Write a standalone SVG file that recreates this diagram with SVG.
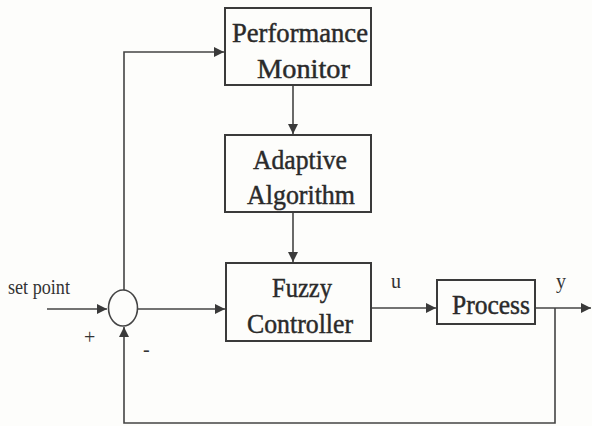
<svg xmlns="http://www.w3.org/2000/svg" width="592" height="426" viewBox="0 0 592 426">
<defs>
<marker id="ah" viewBox="0 0 10 10" refX="10" refY="5" markerWidth="10" markerHeight="10" markerUnits="userSpaceOnUse" orient="auto">
<path d="M0,0 L10,5 L0,10 z" fill="#3a3a3a"/>
</marker>
<style>
.box{fill:none;stroke:#3a3a3a;stroke-width:2}
.ln{fill:none;stroke:#444;stroke-width:1.6}
.t{fill:#2a2a2a;stroke:#2a2a2a;stroke-width:0.45;font-size:27px}
.s{fill:#333;font-size:20px}
</style>
</defs>
<rect width="592" height="426" fill="#fdfdfb"/>
<g id="connectors">
<line class="ln" x1="293" y1="85" x2="293" y2="134" marker-end="url(#ah)"/>
<line class="ln" x1="293" y1="212" x2="293" y2="262" marker-end="url(#ah)"/>
<line class="ln" x1="47" y1="309" x2="107" y2="309" marker-end="url(#ah)"/>
<line class="ln" x1="138" y1="309" x2="225" y2="309" marker-end="url(#ah)"/>
<line class="ln" x1="371" y1="308" x2="436" y2="308" marker-end="url(#ah)"/>
<line class="ln" x1="535" y1="308" x2="591" y2="308" marker-end="url(#ah)"/>
<polyline class="ln" points="555,308 555,423 124,423 124,327" marker-end="url(#ah)"/>
<polyline class="ln" points="124,290 124,52 224,52" marker-end="url(#ah)"/>
</g>
<g font-family="'Liberation Serif', 'DejaVu Serif', serif">
<g id="performance-monitor">
<rect class="box" x="225" y="8" width="146" height="77"/>
<text class="t" x="232" y="42" textLength="136" lengthAdjust="spacingAndGlyphs">Performance</text>
<text class="t" x="257" y="78" textLength="93" lengthAdjust="spacingAndGlyphs">Monitor</text>
</g>
<g id="adaptive-algorithm">
<rect class="box" x="225" y="135" width="146" height="77"/>
<text class="t" x="253" y="169" textLength="94" lengthAdjust="spacingAndGlyphs">Adaptive</text>
<text class="t" x="247" y="204" textLength="108" lengthAdjust="spacingAndGlyphs">Algorithm</text>
</g>
<g id="fuzzy-controller">
<rect class="box" x="226" y="263" width="145" height="78"/>
<text class="t" x="272" y="297" textLength="60" lengthAdjust="spacingAndGlyphs">Fuzzy</text>
<text class="t" x="247" y="333" textLength="106" lengthAdjust="spacingAndGlyphs">Controller</text>
</g>
<g id="process">
<rect class="box" x="437" y="280" width="98" height="44"/>
<text class="t" x="452" y="314" textLength="78" lengthAdjust="spacingAndGlyphs">Process</text>
</g>
<g id="summing-junction">
<ellipse class="ln" cx="123" cy="308" rx="14.5" ry="18"/>
</g>
<g id="labels">
<text class="s" x="8" y="294" textLength="62" lengthAdjust="spacingAndGlyphs">set point</text>
<text class="s" x="391" y="288">u</text>
<text class="s" x="556" y="288">y</text>
<text class="s" x="84" y="344" font-size="12">+</text>
<text class="s" x="143" y="356">-</text>
</g>
</g>
</svg>
